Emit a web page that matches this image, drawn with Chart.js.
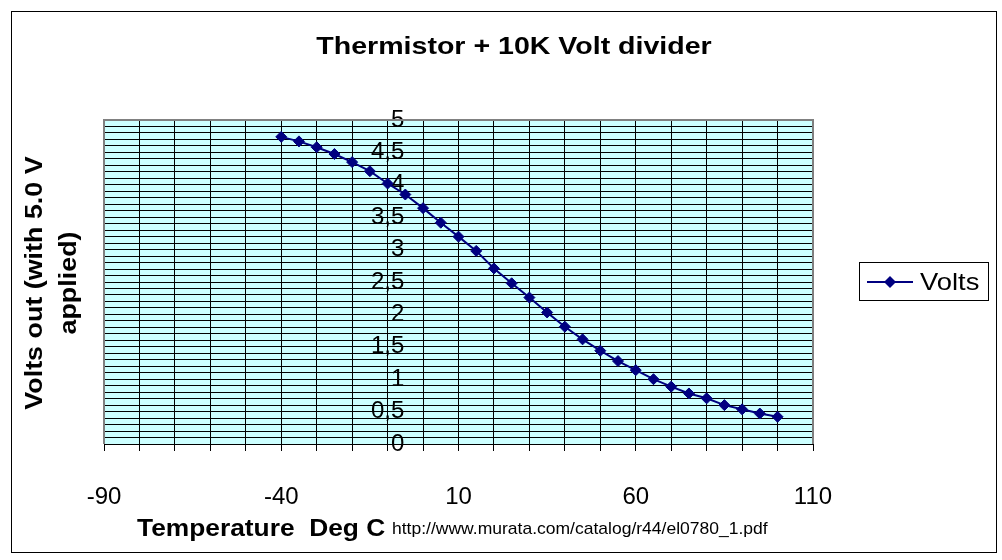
<!DOCTYPE html>
<html><head><meta charset="utf-8">
<script src="https://cdn.jsdelivr.net/npm/chart.js@4.4.1/dist/chart.umd.min.js"></script>
<style>html,body{margin:0;padding:0;background:#fff;}#wrap{width:1002px;height:560px;}</style>
</head><body><div id="wrap"><canvas id="c" width="1002" height="560"></canvas></div>
<script>
const titleText = 'Thermistor + 10K Volt divider';
const yTitleLines = ['Volts out (with 5.0 V', 'applied)'];
const xTitleText = 'Temperature  Deg C';
const sourceText = 'http://www.murata.com/catalog/r44/el0780_1.pdf';
const seriesName = 'Volts';
const temperatures = [-40,-35,-30,-25,-20,-15,-10,-5,0,5,10,15,20,25,30,35,40,45,50,55,60,65,70,75,80,85,90,95,100];
const volts = [4.74,4.67,4.58,4.475,4.35,4.21,4.02,3.85,3.64,3.415,3.2,2.98,2.71,2.48,2.26,2.03,1.81,1.615,1.44,1.28,1.14,1.0,0.885,0.78,0.705,0.60,0.535,0.47,0.42];
const xTickLabels = [-90,-40,10,60,110];
const yTickLabels = ['0','0,5','1','1,5','2','2,5','3','3,5','4','4,5','5'];

const FONT = "'Liberation Sans', Arial, sans-serif";
const NAVY = '#000080';

function stretchText(ctx, text, x, y, sx, align) {
  ctx.save();
  ctx.translate(x, y);
  ctx.scale(sx, 1);
  ctx.textAlign = align;
  ctx.fillText(text, 0, 0);
  ctx.restore();
}

const decor = {
  id: 'decor',
  beforeDraw(chart) {
    const {ctx, chartArea: a} = chart;
    ctx.save();
    ctx.fillStyle = '#ccffff';
    ctx.fillRect(a.left, a.top, a.right - a.left, a.bottom - a.top);
    ctx.restore();
  },
  beforeDatasetsDraw(chart) {
    const {ctx, chartArea: a} = chart;
    ctx.save();
    ctx.strokeStyle = '#808080';
    ctx.lineWidth = 2;
    ctx.beginPath();
    ctx.moveTo(a.left, a.bottom);
    ctx.lineTo(a.left, a.top);
    ctx.lineTo(a.right, a.top);
    ctx.lineTo(a.right, a.bottom);
    ctx.stroke();
    ctx.restore();
  },
  afterDraw(chart) {
    const {ctx} = chart;
    ctx.save();
    ctx.strokeStyle = '#000';
    ctx.lineWidth = 1;
    ctx.strokeRect(11.5, 11.5, 985, 541);
    ctx.fillStyle = '#000';
    ctx.textBaseline = 'alphabetic';
    // title
    ctx.font = 'bold 24px ' + FONT;
    stretchText(ctx, titleText, 514, 54, 1.19, 'center');
    // y title (rotated, stretched along its length)
    ctx.save();
    ctx.translate(0, 283);
    ctx.rotate(-Math.PI / 2);
    ctx.scale(1.12, 1);
    ctx.font = 'bold 24px ' + FONT;
    ctx.textAlign = 'center';
    ctx.fillText(yTitleLines[0], 0, 42);
    ctx.fillText(yTitleLines[1], 0, 76);
    ctx.restore();
    // x title
    ctx.font = 'bold 24px ' + FONT;
    stretchText(ctx, xTitleText, 137, 536, 1.097, 'left');
    ctx.font = '17px ' + FONT;
    stretchText(ctx, sourceText, 392, 534, 1.03, 'left');
    // legend
    ctx.lineWidth = 1;
    ctx.strokeStyle = '#000';
    ctx.fillStyle = '#fff';
    ctx.fillRect(859.5, 262.5, 129, 38);
    ctx.strokeRect(859.5, 262.5, 129, 38);
    ctx.strokeStyle = NAVY;
    ctx.lineWidth = 2;
    ctx.beginPath();
    ctx.moveTo(867, 282);
    ctx.lineTo(913, 282);
    ctx.stroke();
    ctx.fillStyle = NAVY;
    ctx.beginPath();
    ctx.moveTo(890, 276);
    ctx.lineTo(896, 282);
    ctx.lineTo(890, 288);
    ctx.lineTo(884, 282);
    ctx.closePath();
    ctx.fill();
    ctx.fillStyle = '#000';
    ctx.font = '24px ' + FONT;
    stretchText(ctx, seriesName, 920, 290, 1.14, 'left');
    ctx.restore();
  }
};

const isHalf = v => Math.abs(v * 2 - Math.round(v * 2)) < 1e-6;

new Chart(document.getElementById('c'), {
  type: 'scatter',
  data: {
    datasets: [{
      label: seriesName,
      data: temperatures.map((t, i) => ({x: t, y: volts[i]})),
      showLine: true,
      borderColor: NAVY,
      backgroundColor: NAVY,
      borderWidth: 2,
      pointStyle: 'rectRot',
      pointRadius: 5.5,
      pointBorderWidth: 1,
      pointBorderColor: NAVY,
      pointBackgroundColor: NAVY,
      tension: 0
    }]
  },
  options: {
    responsive: false,
    animation: false,
    events: [],
    layout: {padding: {left: 104, top: 120, right: 189, bottom: 56}},
    plugins: {legend: {display: false}, title: {display: false}, tooltip: {enabled: false}},
    scales: {
      x: {
        type: 'linear', min: -90, max: 110, position: 'bottom',
        afterFit(s) { s.height = 60; },
        afterBuildTicks(s) { s.ticks = []; for (let v = -90; v <= 110; v += 10) s.ticks.push({value: v}); },
        ticks: {
          autoSkip: false, maxRotation: 0, padding: 32, color: '#000',
          font: {family: FONT, size: 24},
          callback: v => xTickLabels.includes(v) ? String(v) : ''
        },
        grid: {
          color: c => (c.tick && (c.tick.value === -90 || c.tick.value === 110)) ? 'rgba(0,0,0,0)' : '#000',
          lineWidth: 1, drawTicks: true, tickLength: 7, tickColor: '#000', tickWidth: 1
        },
        border: {display: true, color: '#000', width: 1}
      },
      y: {
        type: 'linear', min: 0, max: 5, position: {x: 0},
        afterBuildTicks(s) { s.ticks = []; for (let i = 0; i <= 50; i++) s.ticks.push({value: i / 10}); },
        ticks: {
          autoSkip: false, color: '#000', padding: 0,
          font: {family: FONT, size: 24},
          callback: v => isHalf(v) ? yTickLabels[Math.round(v * 2)] + '\u2002\u0020' : ''
        },
        grid: {
          color: c => (c.tick && Math.abs(c.tick.value - 5) < 1e-6) ? 'rgba(0,0,0,0)' : '#000',
          lineWidth: 1, drawTicks: true, tickLength: 8,
          tickColor: c => (c.tick && isHalf(c.tick.value)) ? '#000' : 'rgba(0,0,0,0)'
        },
        border: {display: true, color: '#000', width: 1}
      }
    }
  },
  plugins: [decor]
});
</script></body></html>
